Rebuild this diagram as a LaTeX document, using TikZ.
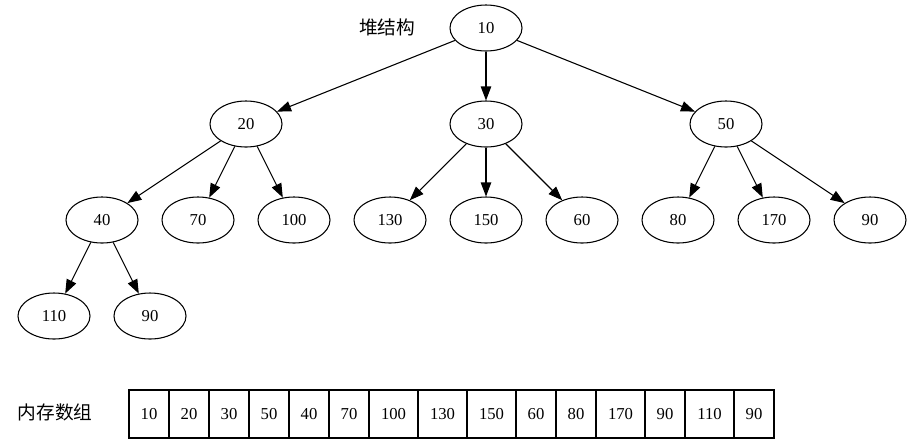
\documentclass[tikz,border=0pt]{standalone}
\usepackage{fontspec}
\setmainfont{Liberation Serif}
\newfontfamily\cjk{Noto Sans CJK SC}
\usetikzlibrary{arrows.meta,positioning,shapes.geometric}
\tikzset{
  heapnode/.style={ellipse, draw, line width=0.8pt, minimum width=54pt,
    minimum height=34.5pt, inner sep=0pt, font=\fontsize{12.5}{15}\selectfont},
  heapedge/.style={line width=0.8pt, -{Triangle[length=10.5pt,width=7.8pt]}},
  cell/.style={rectangle, draw, line width=0.8pt, minimum width=30pt,
    minimum height=36pt, inner sep=0pt, outer sep=0pt,
    font=\fontsize{12.5}{15}\selectfont},
  widecell/.style={cell, minimum width=36.75pt},
  caption/.style={font=\cjk\fontsize{14}{16}\selectfont}
}

\begin{document}
\begin{tikzpicture}[x=0.75pt,y=-0.75pt]
  \useasboundingbox (0,0) rectangle (912,444);

  % Heap (ternary tree)
  \node[caption] (heaplabel) at (387,27) {堆结构};
  \node[heapnode] (h1) at (486,28) {10};
  \node[heapnode] (h2) at (246,124) {20};
  \node[heapnode] (h3) at (486,124) {30};
  \node[heapnode] (h4) at (726,124) {50};
  \node[heapnode] (h5) at (102,220) {40};
  \node[heapnode] (h6) at (198,220) {70};
  \node[heapnode] (h7) at (294,220) {100};
  \node[heapnode] (h8) at (390,220) {130};
  \node[heapnode] (h9) at (486,220) {150};
  \node[heapnode] (h10) at (582,220) {60};
  \node[heapnode] (h11) at (678,220) {80};
  \node[heapnode] (h12) at (774,220) {170};
  \node[heapnode] (h13) at (870,220) {90};
  \node[heapnode] (h14) at (54,316) {110};
  \node[heapnode] (h15) at (150,316) {90};
  \foreach \p/\c in {h1/h2,h1/h3,h1/h4,h2/h5,h2/h6,h2/h7,h3/h8,h3/h9,
    h3/h10,h4/h11,h4/h12,h4/h13,h5/h14,h5/h15}{
    \draw[heapedge] (\p) -- (\c);
  }

  % Memory array
  \node[caption] (arraylabel) at (55,412) {内存数组};
  \node[cell] (a1) at (149,414) {10};
  \foreach \v/\s [count=\i from 2] in {20/cell,30/cell,50/cell,40/cell,
    70/cell,100/widecell,130/widecell,150/widecell,60/cell,80/cell,
    170/widecell,90/cell,110/widecell,90/cell}{
    \pgfmathtruncatemacro\j{\i-1}
    \node[\s,right=0pt of a\j] (a\i) {\v};
  }
\end{tikzpicture}
\end{document}
